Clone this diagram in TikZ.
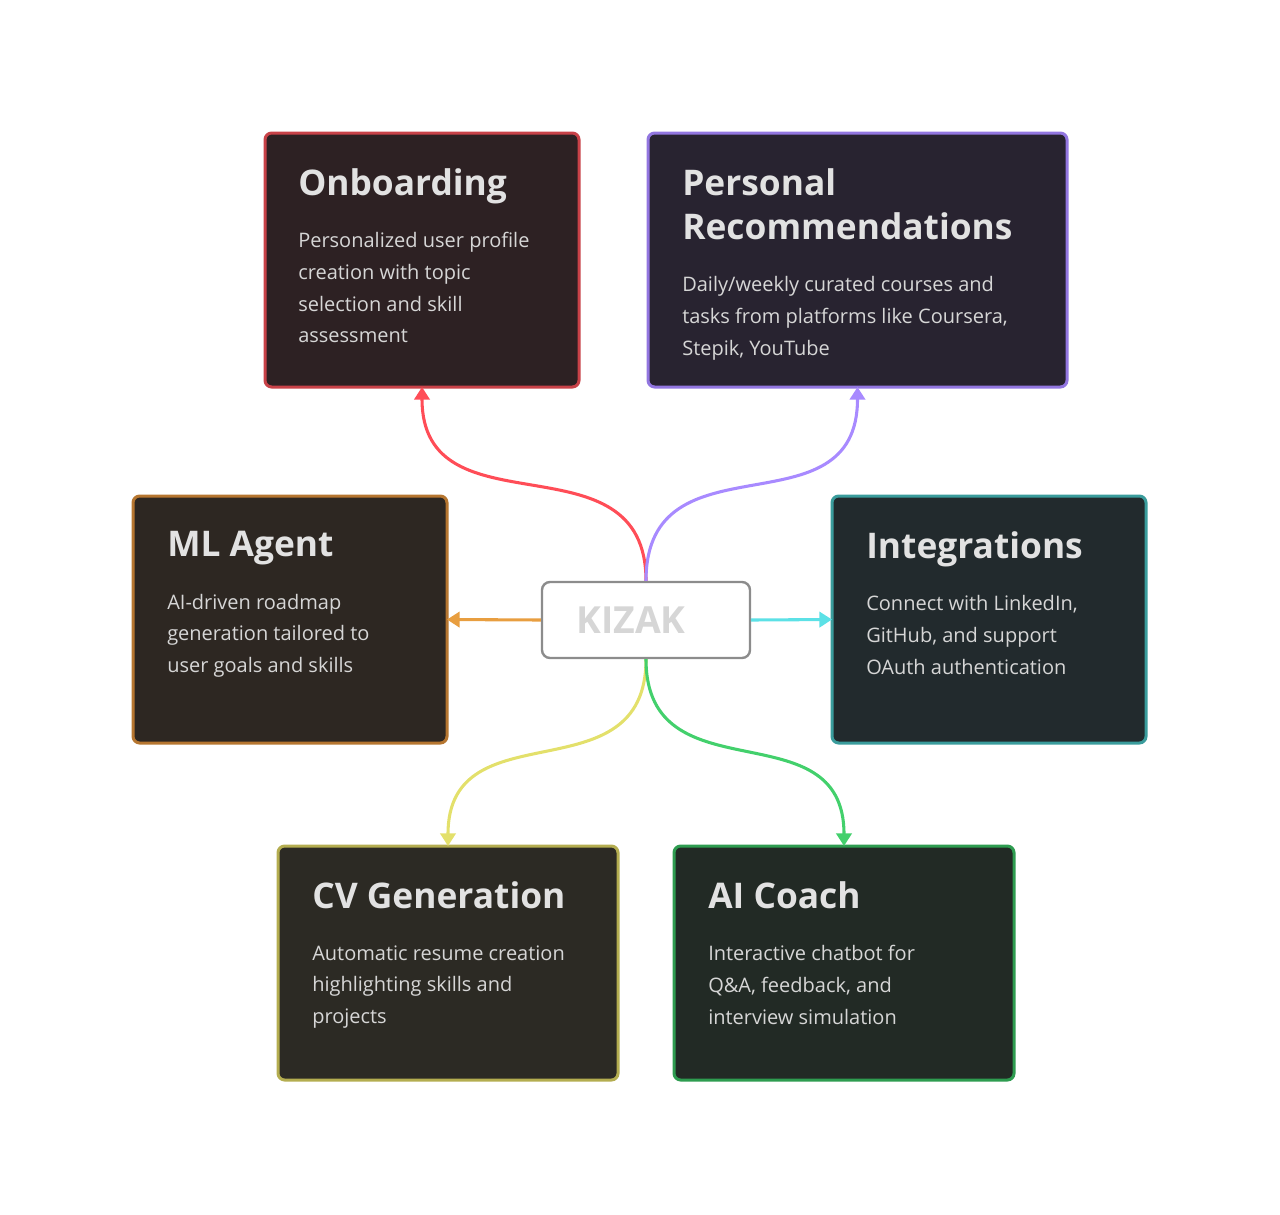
\documentclass[tikz,border=0pt]{standalone}
\usepackage{fontspec}
\setmainfont{Open Sans}
\usetikzlibrary{arrows.meta,positioning}

\definecolor{titlegray}{RGB}{226,226,226}
\definecolor{bodygray}{RGB}{214,214,214}
% card colours: border, fill, link
\definecolor{onbline}{RGB}{200,66,72}
\definecolor{onbfill}{RGB}{45,33,35}
\definecolor{onblink}{RGB}{255,77,87}
\definecolor{recline}{RGB}{146,118,224}
\definecolor{recfill}{RGB}{40,35,48}
\definecolor{reclink}{RGB}{168,138,255}
\definecolor{mlline}{RGB}{182,118,48}
\definecolor{mlfill}{RGB}{45,39,34}
\definecolor{mllink}{RGB}{232,158,64}
\definecolor{intline}{RGB}{58,156,156}
\definecolor{intfill}{RGB}{34,42,45}
\definecolor{intlink}{RGB}{92,225,230}
\definecolor{cvline}{RGB}{180,173,80}
\definecolor{cvfill}{RGB}{44,42,36}
\definecolor{cvlink}{RGB}{227,224,107}
\definecolor{coachline}{RGB}{46,156,80}
\definecolor{coachfill}{RGB}{34,42,37}
\definecolor{coachlink}{RGB}{67,208,108}

\tikzset{
    card/.style={draw, line width=2.25pt, rounded corners=5pt, inner sep=0pt, outer sep=0pt},
    cardsize/.style 2 args={minimum width=#1*0.75pt, minimum height=#2*0.75pt},
    cardtitle/.style={anchor=north west, inner sep=0pt, align=left, text=titlegray,
            font=\fontsize{26.5}{33}\selectfont\bfseries},
    cardtext/.style={anchor=north west, inner sep=0pt, align=left, text=bodygray,
            font=\fontsize{15}{23.8}\selectfont},
    link/.style={line width=2.3pt, -{Triangle[width=11.5pt,length=9.5pt]}},
}

\begin{document}
\begin{tikzpicture}[x=0.75pt, y=-0.75pt]
        \useasboundingbox (0,0) rectangle (1280,1214);
        %centre node
        \node[draw=black!45, line width=1.8pt, rounded corners=6pt, fill=white,
            cardsize={208}{76}, text={rgb,255:red,214;green,214;blue,214},
            font=\fontsize{28}{32}\selectfont\bfseries] (kizak) at (646,620) {KIZAK\kern22.5pt};
        %cards
        \node[card, draw=onbline, fill=onbfill, cardsize={314}{254}] (onb) at (422,260) {};
        \node[card, draw=recline, fill=recfill, cardsize={419}{254}] (rec) at (857.5,260) {};
        \node[card, draw=mlline, fill=mlfill, cardsize={314}{247}] (ml) at (290,619.5) {};
        \node[card, draw=intline, fill=intfill, cardsize={314}{247}] (integ) at (989,619.5) {};
        \node[card, draw=cvline, fill=cvfill, cardsize={340}{234}] (cv) at (448,963) {};
        \node[card, draw=coachline, fill=coachfill, cardsize={340}{234}] (coach) at (844,963) {};
        %card titles
        \node[cardtitle] (onbT) at ([shift={(33,35)}]onb.north west) {Onboarding};
        \node[cardtitle] (recT) at ([shift={(34,35)}]rec.north west) {Personal\\Recommendations};
        \node[cardtitle] (mlT) at ([shift={(34,35)}]ml.north west) {ML Agent};
        \node[cardtitle] (integT) at ([shift={(34,35)}]integ.north west) {Integrations};
        \node[cardtitle] (cvT) at ([shift={(34,35)}]cv.north west) {CV Generation};
        \node[cardtitle] (coachT) at ([shift={(34,35)}]coach.north west) {AI Coach};
        %card texts
        \node[cardtext] (onbB) at ([shift={(0,37)}]onbT.base west)
            {Personalized user profile\\creation with topic\\selection and skill\\assessment};
        \node[cardtext] (recB) at ([shift={(0,37)}]recT.base west)
            {Daily/weekly curated courses and\\tasks from platforms like Coursera,\\Stepik, YouTube};
        \node[cardtext] (mlB) at ([shift={(0,37)}]mlT.base west)
            {AI-driven roadmap\\generation tailored to\\user goals and skills};
        \node[cardtext] (integB) at ([shift={(0,37)}]integT.base west)
            {Connect with LinkedIn,\\GitHub, and support\\OAuth authentication};
        \node[cardtext] (cvB) at ([shift={(0,37)}]cvT.base west)
            {Automatic resume creation\\highlighting skills and\\projects};
        \node[cardtext] (coachB) at ([shift={(0,37)}]coachT.base west)
            {Interactive chatbot for\\Q\&A, feedback, and\\interview simulation};
        %links
        \draw[link, onblink] (kizak.north) .. controls +(0,-150) and +(0,150) .. (onb.south);
        \draw[link, reclink] (kizak.north) .. controls +(0,-150) and +(0,150) .. (rec.south);
        \draw[link, mllink] (kizak.west) -- (ml.east);
        \draw[link, intlink] (kizak.east) -- (integ.west);
        \draw[link, cvlink] (kizak.south) .. controls +(0,140) and +(0,-140) .. (cv.north);
        \draw[link, coachlink] (kizak.south) .. controls +(0,140) and +(0,-140) .. (coach.north);
    \end{tikzpicture}
\end{document}
